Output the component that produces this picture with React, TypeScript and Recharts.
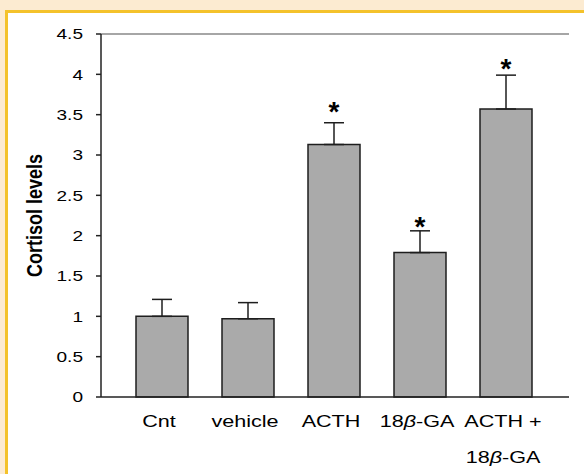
import { Bar, ComposedChart, ErrorBar, ReferenceLine, Scatter, XAxis, YAxis } from 'recharts';

const categories = ['Cnt', 'vehicle', 'ACTH', '18β-GA', 'ACTH +'];
const secondLines = ['', '', '', '', '18β-GA'];
const cortisol = [1.0, 0.97, 3.13, 1.79, 3.57];
const sem = [0.21, 0.2, 0.27, 0.27, 0.42];
const starLevels: (number | null)[] = [null, null, 3.6, 2.17, 4.13];
const yTicks = [0, 0.5, 1, 1.5, 2, 2.5, 3, 3.5, 4, 4.5];

const rows = categories.map((name, i) => ({
  name,
  value: cortisol[i],
  err: [0, sem[i]],
  star: starLevels[i],
}));

const FONT = '"Liberation Sans", Arial, sans-serif';
const STRETCH = 1.27;

// beta is set in italics in the original labels
function withBeta(s: string) {
  return s.split(/(β)/).map((part, i) =>
    part === 'β' ? <tspan key={i} fontStyle="italic">β</tspan> : <tspan key={i}>{part}</tspan>
  );
}

function XTick({ x, y, payload, index }: any) {
  const second = secondLines[index ?? 0];
  return (
    <g transform={`translate(${x - 3},${y}) scale(${STRETCH},1)`}>
      <text x={0} y={30} textAnchor="middle" fontFamily={FONT} fontSize={17} fill="#000">{withBeta(payload.value)}</text>
      {second && <text x={0} y={66} textAnchor="middle" fontFamily={FONT} fontSize={17} fill="#000">{withBeta(second)}</text>}
    </g>
  );
}

function YTick({ x, y, payload }: any) {
  return (
    <g transform={`translate(${x},${y}) scale(${STRETCH},1)`}>
      <text x={0} y={0} dy="0.36em" textAnchor="end" fontFamily={FONT} fontSize={15} fill="#000">{payload.value}</text>
    </g>
  );
}

function Star({ cx, cy, payload }: any) {
  if (payload?.star == null || !Number.isFinite(cy)) return <g />;
  return (
    <text x={cx} y={cy + 14.5} textAnchor="middle" fontFamily={FONT} fontWeight="bold" fontSize={28} fill="#000">*</text>
  );
}

export default function App() {
  return (
    <div style={{ position: 'absolute', left: 0, top: 0, width: 584, height: 474, background: '#FCEBD1', overflow: 'hidden' }}>
      <div style={{ position: 'absolute', left: 5, top: 10, right: 0, bottom: 0, background: '#fff', borderLeft: '3px solid #F4C22B', borderTop: '3px solid #F4C22B' }} />
      <div style={{ position: 'absolute', left: 0, top: 0 }}>
        <ComposedChart width={584} height={474} data={rows} margin={{ top: 34, right: 15, bottom: 0, left: 0 }}>
          <XAxis
            dataKey="name"
            height={77}
            padding={{ left: 18, right: 20 }}
            tickLine={false}
            tickSize={0}
            tickMargin={0}
            axisLine={{ stroke: '#222', strokeWidth: 1.5 }}
            tick={<XTick />}
            interval={0}
          />
          <YAxis
            width={101}
            domain={[0, 4.5]}
            ticks={yTicks}
            tickSize={5}
            tickMargin={13}
            axisLine={{ stroke: '#222', strokeWidth: 1.5 }}
            tickLine={{ stroke: '#222', strokeWidth: 1.5 }}
            tick={<YTick />}
            label={{
              content: ({ viewBox }: any) => (
                <text
                  transform={`translate(41.5,${viewBox.y + viewBox.height / 2}) scale(${STRETCH},1) rotate(-90)`}
                  textAnchor="middle"
                  fontFamily={FONT}
                  fontWeight="bold"
                  fontSize={18}
                  fill="#000"
                >
                  Cortisol levels
                </text>
              ),
            }}
          />
          <YAxis yAxisId="frame" orientation="right" width={0} domain={[0, 4.5]} tick={false} tickLine={false} axisLine={{ stroke: '#999', strokeWidth: 1.5 }} />
          <ReferenceLine y={4.5} stroke="#888" strokeWidth={1.5} />
          <Bar dataKey="value" fill="#AAAAAA" stroke="#1E1E1E" strokeWidth={1.5} barSize={52} isAnimationActive={false}>
            <ErrorBar dataKey="err" width={10} stroke="#1E1E1E" strokeWidth={1.5} direction="y" />
          </Bar>
          <Scatter dataKey="star" shape={<Star />} isAnimationActive={false} />
        </ComposedChart>
      </div>
    </div>
  );
}
